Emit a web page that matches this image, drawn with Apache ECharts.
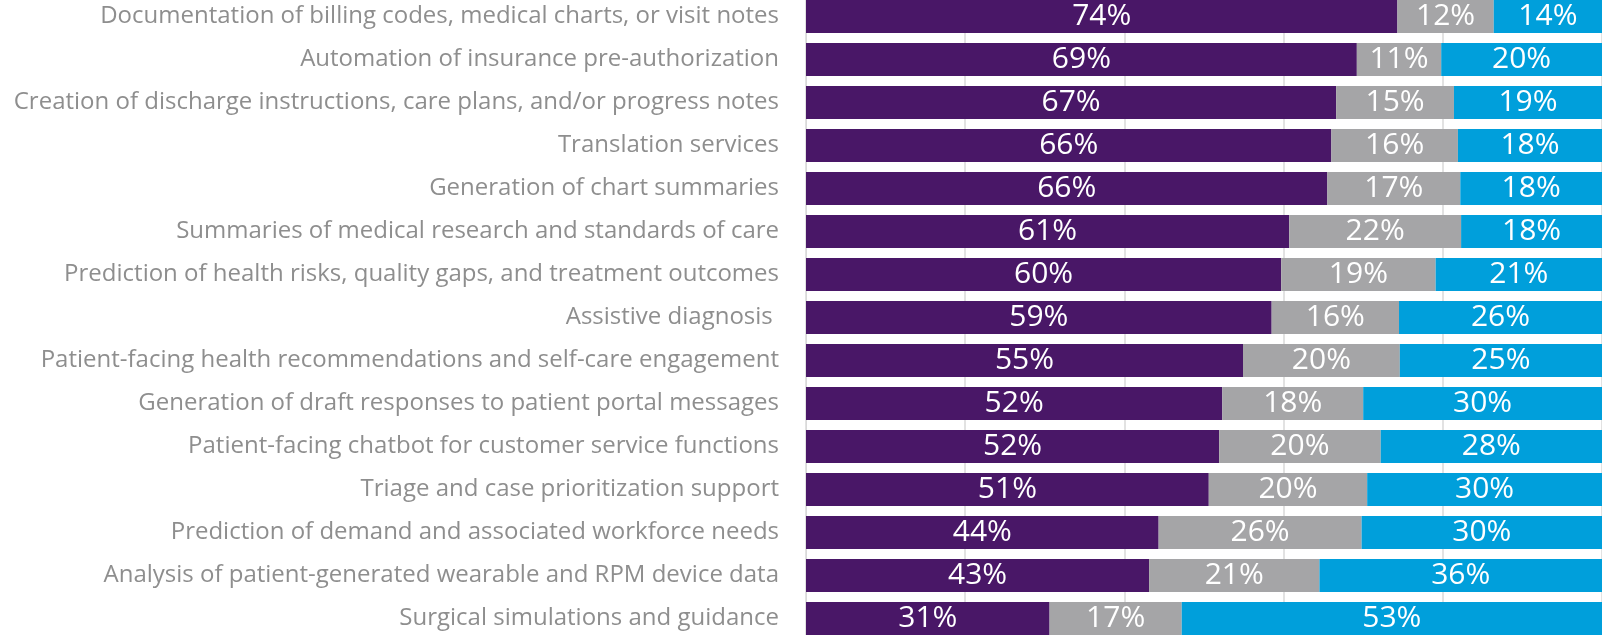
<!DOCTYPE html>
<html>
<head>
<meta charset="utf-8">
<script src="https://cdn.jsdelivr.net/npm/echarts@6/dist/echarts.min.js"></script>
<style>
  html, body { margin: 0; padding: 0; background: #fff; overflow: hidden; }
  /* chart is a bit taller than the window so the outer bars get cut like the original */
  #chart { width: 1602px; height: 645px; margin-top: -5px; }
</style>
</head>
<body>
<div id="chart"></div>
<script>
const categories = [
  'Documentation of billing codes, medical charts, or visit notes',
  'Automation of insurance pre-authorization',
  'Creation of discharge instructions, care plans, and/or progress notes',
  'Translation services',
  'Generation of chart summaries',
  'Summaries of medical research and standards of care',
  'Prediction of health risks, quality gaps, and treatment outcomes',
  'Assistive diagnosis ',
  'Patient-facing health recommendations and self-care engagement',
  'Generation of draft responses to patient portal messages',
  'Patient-facing chatbot for customer service functions',
  'Triage and case prioritization support',
  'Prediction of demand and associated workforce needs',
  'Analysis of patient-generated wearable and RPM device data',
  'Surgical simulations and guidance'
]

// bar lengths (labels show them rounded)
const purpleValues = [74.3, 69.2, 66.6, 66.0, 65.5, 60.7, 59.7, 58.5, 54.9, 52.3, 51.9, 50.6, 44.3, 43.1, 30.6]
const grayValues = [12.1, 10.6, 14.8, 15.9, 16.7, 21.6, 19.4, 16.0, 19.7, 17.7, 20.3, 19.9, 25.5, 21.4, 16.6]
const blueValues = [13.6, 20.2, 18.6, 18.1, 17.8, 17.7, 20.9, 25.5, 25.4, 30.0, 27.8, 29.5, 30.2, 35.5, 52.8]

const colors = ['#491767', '#a5a5a7', '#009fdb']

const chart = echarts.init(document.getElementById('chart'))

const makeSeries = (name, data, color) => ({
  name,
  type: 'bar',
  stack: 'total',
  data,
  barWidth: 33,
  itemStyle: { color },
  label: {
    show: true,
    position: 'inside',
    color: '#ffffff',
    fontFamily: 'Open Sans',
    fontSize: 30,
    padding: [3, 0, 0, 0],
    formatter: p => Math.round(p.value) + '%'
  }
})

chart.setOption({
  animation: false,
  grid: { left: 806, right: 0, top: 0, bottom: 0, outerBoundsMode: 'none' },
  xAxis: {
    type: 'value',
    min: 0,
    max: 100,
    interval: 20,
    axisLabel: { show: false },
    axisTick: { show: false },
    axisLine: { show: false },
    splitLine: { show: true, lineStyle: { color: '#d9d9d9', width: 1.5 } }
  },
  yAxis: {
    type: 'category',
    inverse: true,
    data: categories,
    axisTick: { show: false },
    axisLine: { show: true, lineStyle: { color: '#d9d9d9' } },
    axisLabel: {
      margin: 27,
      color: '#8e8e8e',
      fontFamily: 'Open Sans',
      fontSize: 24,
      padding: [3, 0, 0, 0]
    }
  },
  series: [
    makeSeries('purple', purpleValues, colors[0]),
    makeSeries('gray', grayValues, colors[1]),
    makeSeries('blue', blueValues, colors[2])
  ]
})
</script>
</body>
</html>
